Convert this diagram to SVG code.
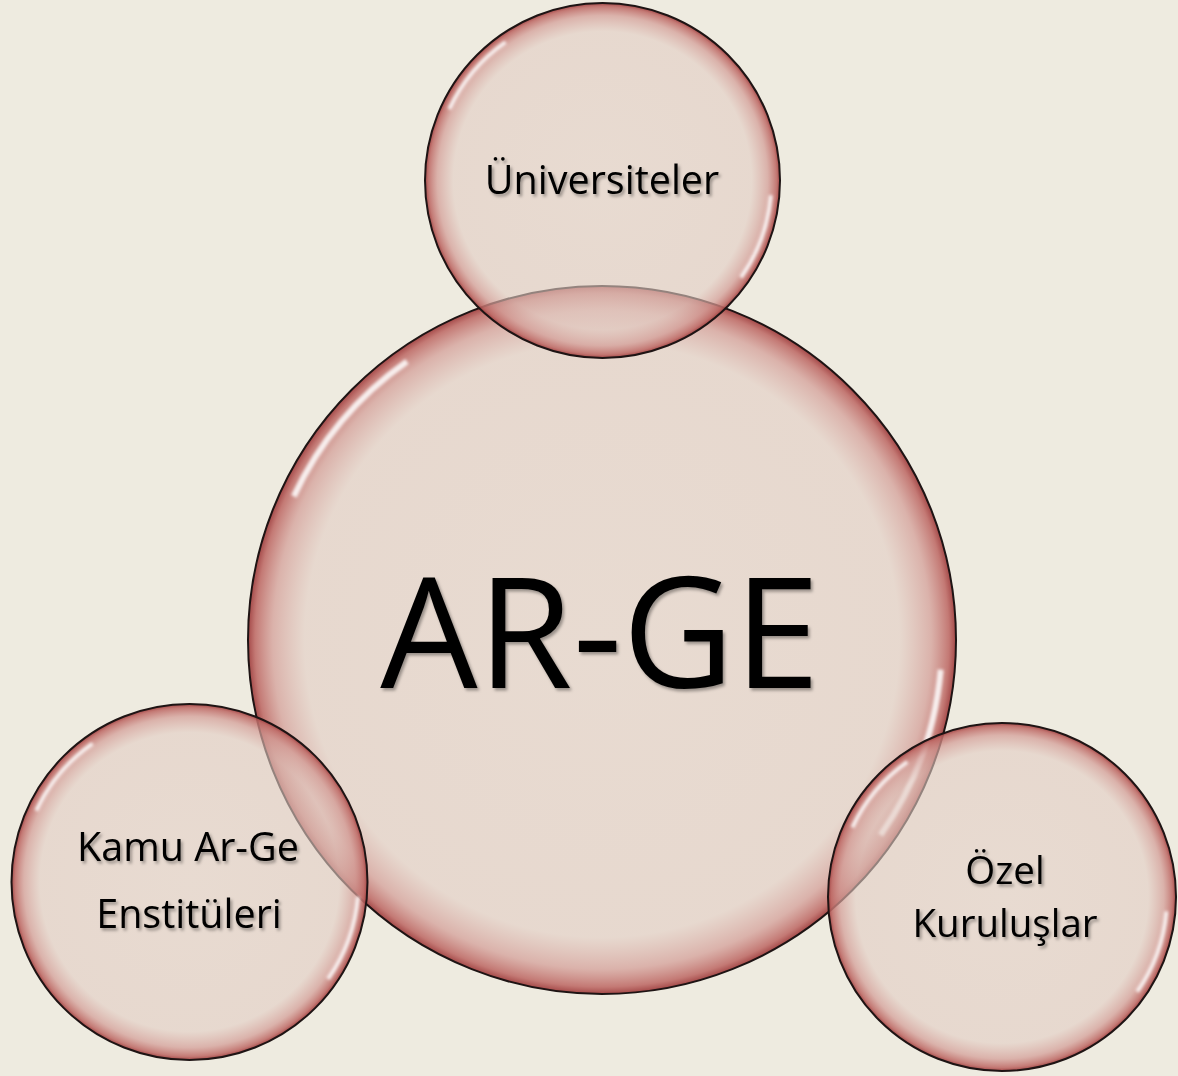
<svg xmlns="http://www.w3.org/2000/svg" width="1178" height="1076" viewBox="0 0 1178 1076">
<defs>
<radialGradient id="bub" cx="50%" cy="50%" r="50%">
<stop offset="0" stop-color="#E4D0C7" stop-opacity="0.6"/>
<stop offset="0.84" stop-color="#E2CCC3" stop-opacity="0.6"/>
<stop offset="0.93" stop-color="#D39C96" stop-opacity="0.72"/>
<stop offset="0.98" stop-color="#BE6A66" stop-opacity="0.88"/>
<stop offset="1" stop-color="#A04040" stop-opacity="0.95"/>
</radialGradient>
<filter id="blur" x="-10%" y="-10%" width="120%" height="120%"><feGaussianBlur stdDeviation="1.8"/></filter>
<filter id="shadow" x="-10%" y="-20%" width="130%" height="150%"><feDropShadow dx="2" dy="2.5" stdDeviation="1.5" flood-color="#000" flood-opacity="0.35"/></filter>
</defs>
<style>
.bubble{fill:url(#bub);stroke:#1e1414;stroke-width:2}
.hl{fill:none;stroke:#fff;stroke-opacity:0.85;stroke-width:4;stroke-dasharray:0 5 30 170 30 125;filter:url(#blur)}
.lbl{font-family:"Open Sans","Noto Sans",sans-serif;fill:#000;text-anchor:middle;filter:url(#shadow)}
</style>
<rect width="1178" height="1076" fill="#EEEBE0"/>
<g id="connectors"/>
<g id="node-arge">
<circle class="bubble" cx="602" cy="640" r="354"/>
<circle class="hl" cx="602" cy="640" r="340" pathLength="360" style="stroke-width:6"/>
<text class="lbl" x="600" y="688" font-size="154">AR-GE</text>
</g>
<g id="node-universiteler">
<circle class="bubble" cx="602.5" cy="180.5" r="177.5"/>
<circle class="hl" cx="602.5" cy="180.5" r="169" pathLength="360"/>
<text class="lbl" x="602" y="194" font-size="39.5">Üniversiteler</text>
</g>
<g id="node-kamu">
<circle class="bubble" cx="189.5" cy="882" r="178"/>
<circle class="hl" cx="189.5" cy="882" r="169" pathLength="360"/>
<text class="lbl" x="188" y="861" font-size="39.5">Kamu Ar-Ge</text>
<text class="lbl" x="189" y="928" font-size="39.5">Enstitüleri</text>
</g>
<g id="node-ozel">
<circle class="bubble" cx="1002" cy="897" r="174"/>
<circle class="hl" cx="1002" cy="897" r="165" pathLength="360"/>
<text class="lbl" x="1005" y="884" font-size="38.5">Özel</text>
<text class="lbl" x="1005" y="937" font-size="38.5">Kuruluşlar</text>
</g>
</svg>
